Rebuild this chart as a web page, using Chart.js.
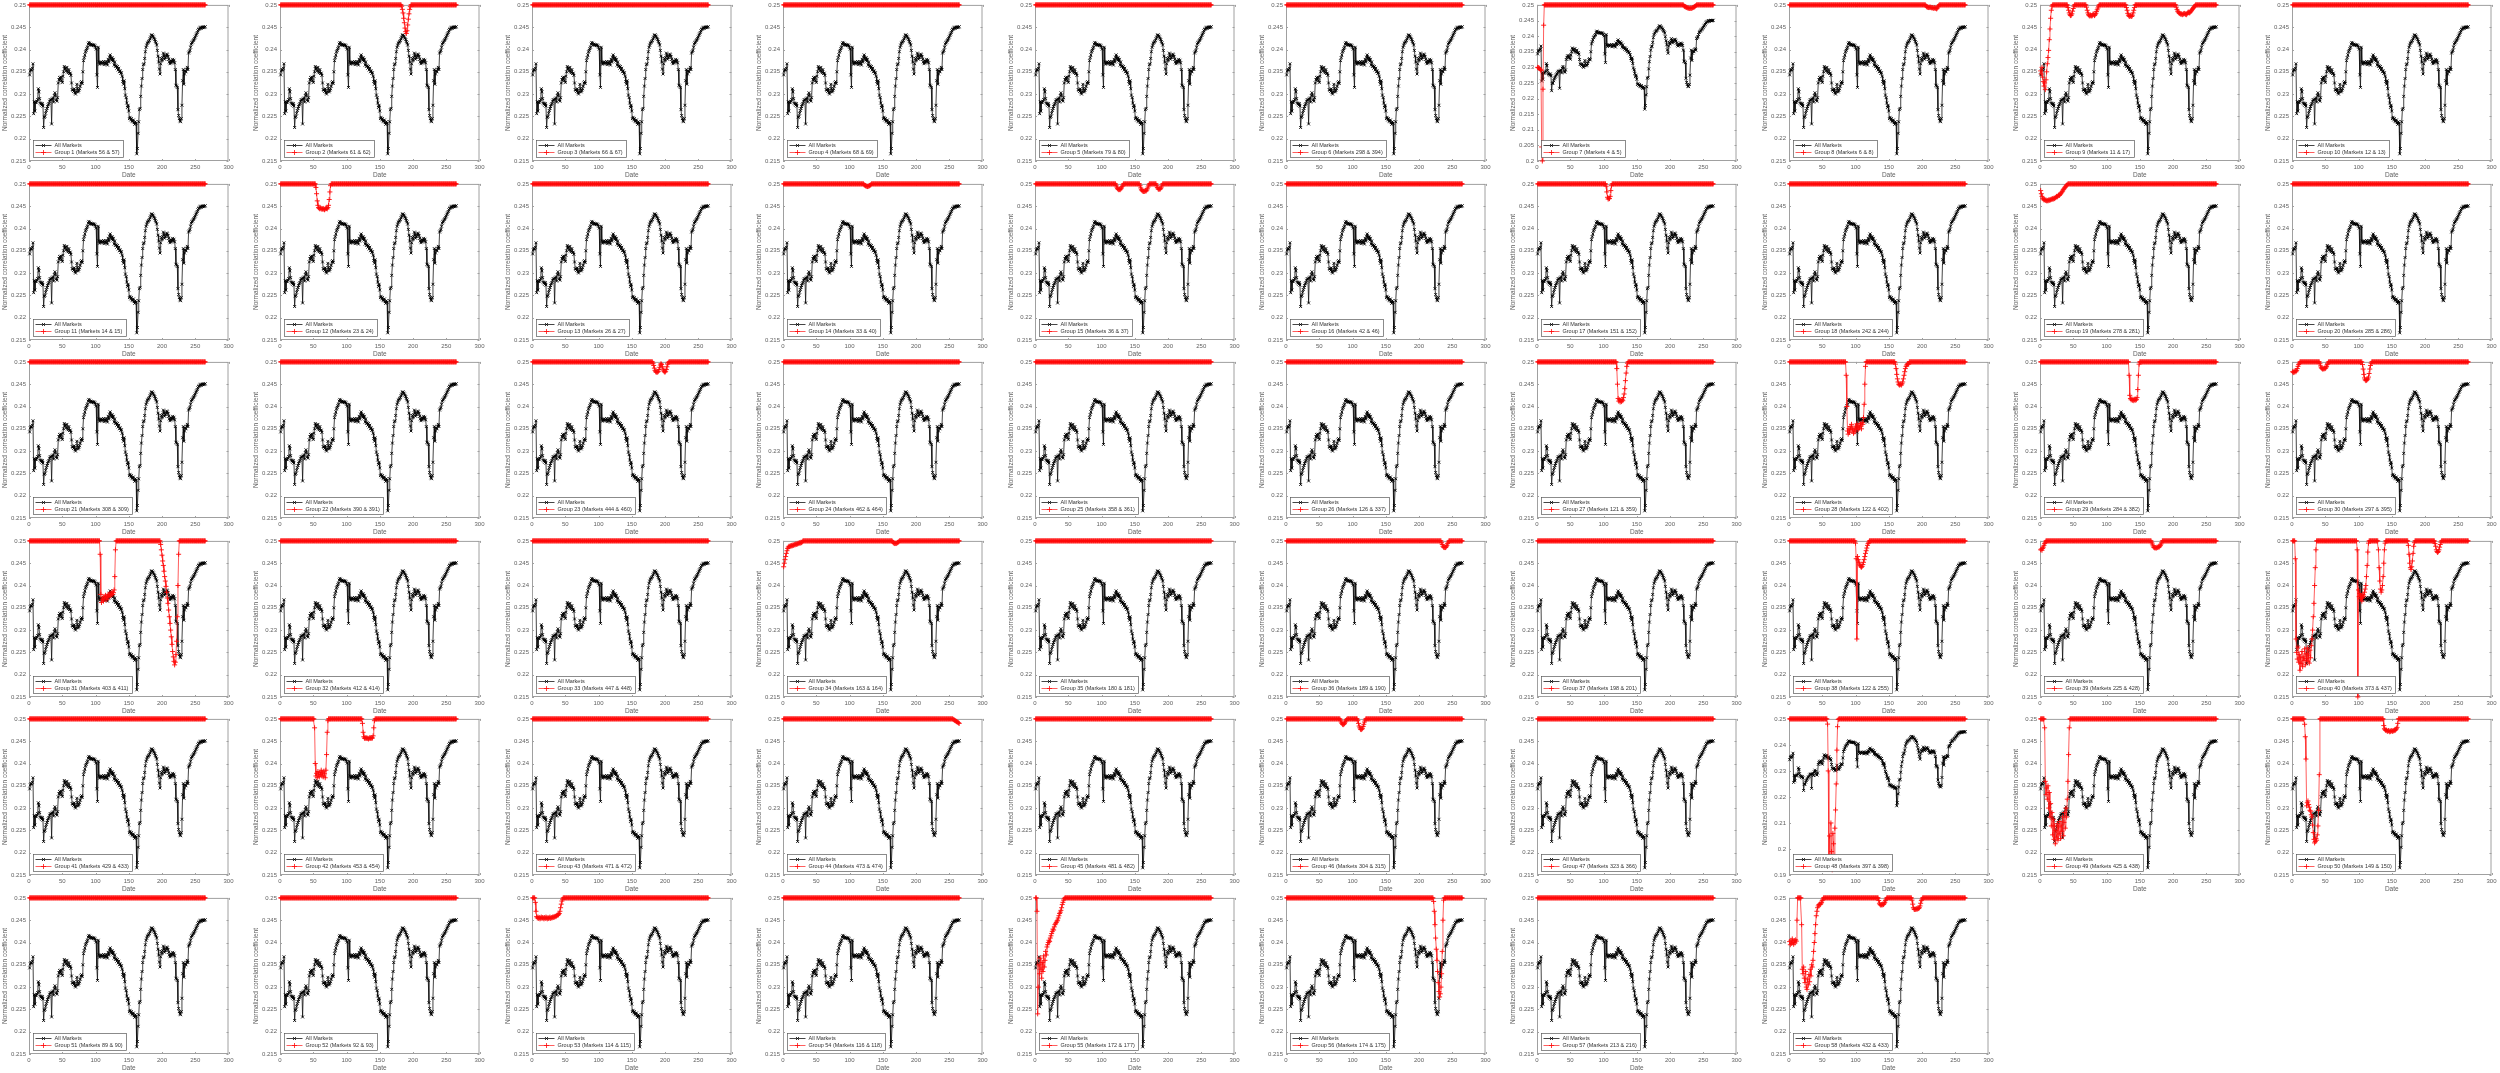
<!DOCTYPE html>
<html><head><meta charset="utf-8">
<script src="https://cdn.jsdelivr.net/npm/chart.js@4.4.0/dist/chart.umd.min.js"></script>
<style>
html,body{margin:0;padding:0;background:#fff;width:2500px;height:1073px;overflow:hidden}
canvas{position:absolute}
</style></head><body>
<script>
// ---------- DATA ----------
const dateCount = 265;
const dates = Array.from({length: dateCount}, (_, i) => i + 1);

const allMarkets = [
0.2343,0.2352,0.2354,0.2355,0.2358,0.2368,0.2256,0.2283,0.2262,0.2281,
0.2282,0.2284,0.2288,0.2312,0.2305,0.2290,0.2280,0.2278,0.2275,0.2279,
0.2273,0.2225,0.2248,0.2250,0.2257,0.2263,0.2268,0.2272,0.2276,0.2279,
0.2284,0.2287,0.2288,0.2233,0.2289,0.2291,0.2282,0.2297,0.2303,0.2298,
0.2287,0.2284,0.2292,0.2325,0.2332,0.2337,0.2332,0.2338,0.2330,0.2326,
0.2340,0.2350,0.2362,0.2356,0.2358,0.2352,0.2360,0.2350,0.2348,0.2355,
0.2346,0.2347,0.2342,0.2325,0.2310,0.2309,0.2306,0.2312,0.2303,0.2300,
0.2305,0.2322,0.2312,0.2305,0.2308,0.2312,0.2318,0.2325,0.2328,0.2324,
0.2350,0.2375,0.2382,0.2388,0.2395,0.2398,0.2402,0.2405,0.2412,0.2416,
0.2414,0.2410,0.2412,0.2410,0.2410,0.2411,0.2409,0.2410,0.2408,0.2405,
0.2401,0.2343,0.2315,0.2405,0.2372,0.2367,0.2370,0.2372,0.2368,0.2371,
0.2370,0.2373,0.2366,0.2370,0.2372,0.2368,0.2373,0.2365,0.2378,0.2372,
0.2383,0.2388,0.2380,0.2376,0.2382,0.2374,0.2378,0.2365,0.2372,0.2362,
0.2364,0.2358,0.2362,0.2354,0.2358,0.2350,0.2352,0.2346,0.2348,0.2340,
0.2328,0.2322,0.2330,0.2312,0.2298,0.2292,0.2280,0.2270,0.2275,0.2262,
0.2245,0.2248,0.2242,0.2245,0.2240,0.2238,0.2242,0.2236,0.2232,0.2238,
0.2235,0.2166,0.2178,0.2212,0.2238,0.2265,0.2268,0.2295,0.2318,0.2335,
0.2355,0.2366,0.2368,0.2380,0.2395,0.2405,0.2410,0.2414,0.2416,0.2418,
0.2420,0.2424,0.2428,0.2432,0.2433,0.2430,0.2428,0.2425,0.2422,0.2418,
0.2415,0.2410,0.2398,0.2385,0.2372,0.2356,0.2345,0.2368,0.2380,0.2375,
0.2382,0.2392,0.2385,0.2378,0.2382,0.2386,0.2390,0.2388,0.2384,0.2378,
0.2372,0.2368,0.2375,0.2370,0.2374,0.2378,0.2372,0.2376,0.2370,0.2355,
0.2320,0.2318,0.2315,0.2265,0.2252,0.2245,0.2240,0.2238,0.2245,0.2275,
0.2330,0.2355,0.2322,0.2345,0.2352,0.2350,0.2356,0.2360,0.2355,0.2392,
0.2395,0.2398,0.2405,0.2412,0.2415,0.2417,0.2420,0.2422,0.2425,0.2428,
0.2432,0.2435,0.2438,0.2442,0.2445,0.2446,0.2448,0.2450,0.2447,0.2450,
0.2449,0.2451,0.2449,0.2450,0.2451
];

const marketA = [56,61,66,68,79,298,4,6,11,12, 14,23,26,33,36,42,151,242,278,285,
  308,390,444,462,358,126,121,122,284,297, 403,412,447,163,180,189,198,122,225,373,
  429,453,471,473,481,304,323,397,425,149, 89,92,114,116,172,174,213,432];
const marketB = [57,62,67,69,80,394,5,8,17,13, 15,24,27,40,37,46,152,244,281,286,
  309,391,460,464,361,337,359,402,382,395, 411,414,448,164,181,190,201,255,428,437,
  433,454,472,474,482,315,366,398,438,150, 90,93,115,118,177,175,216,433];

const yAxisMax = 0.25;
const yAxisMin = [0.215,0.215,0.215,0.215,0.215,0.215,0.2,0.215,0.215,0.215,
  0.215,0.215,0.215,0.215,0.215,0.215,0.215,0.215,0.215,0.215,
  0.215,0.215,0.215,0.215,0.215,0.215,0.215,0.215,0.215,0.215,
  0.215,0.215,0.215,0.215,0.215,0.215,0.215,0.215,0.215,0.215,
  0.215,0.215,0.215,0.215,0.215,0.215,0.215,0.19,0.215,0.215,
  0.215,0.215,0.215,0.215,0.215,0.215,0.215,0.215];
const yAxisStep = yAxisMin.map(m => m === 0.19 ? 0.01 : 0.005);
const xTicks = [0, 50, 100, 150, 200, 250, 300];

// group curve: 0.25 everywhere except these runs [startDate, values...]
const redBaseline = 0.25;
const redRuns = [
 [], // 1
 [[183,[0.2497,0.2490,0.2482,0.2470,0.2460,0.2448,0.2440,0.2436,0.2442,0.2455,0.2468,0.2480,0.2490,0.2496]]],
 [],[],[],[],
 [[1,[0.2300,0.2299,0.2298,0.2296,0.2293,0.2290,0.2045,0.2000,0.2230,0.2435]],
  [221,[0.2497,0.2495,0.2494,0.2493,0.2492,0.2491,0.2490,0.2490,0.2489,0.2489,0.2490,0.2489,0.2490,0.2491,0.2492,0.2493,0.2494,0.2496,0.2498]]],
 [[206,[0.2498,0.2496,0.2495,0.2495,0.2494,0.2495,0.2494,0.2495,0.2494,0.2493,0.2494,0.2493,0.2492,0.2494,0.2493,0.2492,0.2491,0.2493,0.2496,0.2498]]],
 [[1,[0.2352,0.2345,0.2360,0.2338,0.2328,0.2318,0.2325,0.2310,0.2332,0.2350,0.2368,0.2382,0.2398,0.2422,0.2446,0.2470,0.2488,0.2497]],
  [42,[0.2494,0.2488,0.2482,0.2478,0.2476,0.2477,0.2480,0.2486,0.2492,0.2497]],
  [70,[0.2495,0.2488,0.2482,0.2478,0.2476,0.2475,0.2477,0.2476,0.2475,0.2477,0.2480,0.2478,0.2476,0.2478,0.2481,0.2485,0.2489,0.2493,0.2497]],
  [130,[0.2494,0.2488,0.2481,0.2477,0.2475,0.2474,0.2476,0.2475,0.2474,0.2477,0.2482,0.2488,0.2494]],
  [205,[0.2495,0.2490,0.2486,0.2484,0.2482,0.2481,0.2480,0.2479,0.2480,0.2478,0.2479,0.2480,0.2481,0.2480,0.2479,0.2478,0.2480,0.2482,0.2484,0.2483,0.2482,0.2484,0.2486,0.2488,0.2490,0.2492,0.2494,0.2496,0.2498]]],
 [], // 10
 [], // 11
 [[54,[0.2492,0.2478,0.2462,0.2452,0.2447,0.2445,0.2444,0.2446,0.2445,0.2443,0.2444,0.2445,0.2443,0.2442,0.2444,0.2446,0.2445,0.2444,0.2447,0.2452,0.2465,0.2482,0.2496]]],
 [],
 [[122,[0.2498,0.2497,0.2496,0.2495,0.2495,0.2494,0.2495,0.2495,0.2496,0.2497,0.2498]]],
 [[122,[0.2497,0.2493,0.2490,0.2488,0.2487,0.2488,0.2487,0.2489,0.2491,0.2494,0.2497]],
  [158,[0.2496,0.2491,0.2487,0.2485,0.2484,0.2483,0.2484,0.2483,0.2485,0.2484,0.2486,0.2489,0.2493,0.2497]],
  [183,[0.2496,0.2492,0.2489,0.2488,0.2489,0.2488,0.2490,0.2493,0.2497]]],
 [],
 [[104,[0.2495,0.2482,0.2470,0.2466,0.2468,0.2467,0.2472,0.2485,0.2496]]],
 [],
 [[1,[0.2485,0.2478,0.2472,0.2468,0.2466,0.2464,0.2465,0.2463,0.2464,0.2462,0.2463,0.2462,0.2464,0.2463,0.2465,0.2464,0.2466,0.2465,0.2467,0.2466,0.2468,0.2467,0.2469,0.2470,0.2472,0.2471,0.2473,0.2475,0.2474,0.2476,0.2478,0.2480,0.2482,0.2484,0.2487,0.2489,0.2491,0.2493,0.2495,0.2497,0.2498]]],
 [], // 20
 [], [],
 [[182,[0.2497,0.2492,0.2486,0.2481,0.2478,0.2477,0.2478,0.2477,0.2479,0.2483,0.2488,0.2493,0.2496,0.2494,0.2489,0.2484,0.2480,0.2478,0.2477,0.2479,0.2483,0.2489,0.2495,0.2498]]],
 [], [], [],
 [[120,[0.2485,0.2450,0.2418,0.2412,0.2415,0.2410,0.2414,0.2411,0.2416,0.2413,0.2420,0.2428,0.2440,0.2458,0.2475,0.2490,0.2497]]],
 [[86,[0.2470,0.2400,0.2345,0.2338,0.2350,0.2342,0.2355,0.2348,0.2360,0.2352,0.2345,0.2340,0.2350,0.2343,0.2356,0.2349,0.2361,0.2354,0.2348,0.2357,0.2352,0.2362,0.2356,0.2350,0.2364,0.2360,0.2375,0.2405,0.2450,0.2490]],
  [160,[0.2495,0.2485,0.2472,0.2462,0.2455,0.2450,0.2448,0.2449,0.2450,0.2448,0.2451,0.2455,0.2462,0.2470,0.2478,0.2485,0.2490,0.2493,0.2495,0.2496,0.2495]]],
 [[134,[0.2470,0.2425,0.2418,0.2415,0.2417,0.2414,0.2416,0.2413,0.2415,0.2417,0.2414,0.2416,0.2420,0.2438,0.2470,0.2495]]],
 [[1,[0.2478,0.2476,0.2479,0.2477,0.2480,0.2478,0.2481,0.2485,0.2490,0.2494,0.2497]],
  [42,[0.2496,0.2491,0.2487,0.2485,0.2484,0.2485,0.2484,0.2486,0.2485,0.2487,0.2490,0.2494,0.2497]],
  [106,[0.2494,0.2484,0.2472,0.2464,0.2460,0.2458,0.2459,0.2460,0.2462,0.2466,0.2474,0.2484,0.2492,0.2497]]],
 [[107,[0.2470,0.2380,0.2362,0.2368,0.2372,0.2365,0.2375,0.2370,0.2378,0.2373,0.2368,0.2376,0.2380,0.2374,0.2379,0.2383,0.2377,0.2381,0.2386,0.2380,0.2384,0.2390,0.2420,0.2480]],
  [198,[0.2492,0.2480,0.2468,0.2455,0.2445,0.2432,0.2420,0.2410,0.2398,0.2385,0.2372,0.2360,0.2345,0.2330,0.2315,0.2300,0.2285,0.2268,0.2252,0.2240,0.2230,0.2222,0.2228,0.2245,0.2275,0.2330,0.2400,0.2470]]],
 [], [],
 [[1,[0.2442,0.2450,0.2458,0.2465,0.2472,0.2478,0.2483,0.2486,0.2488,0.2487,0.2489,0.2488,0.2490,0.2489,0.2491,0.2490,0.2492,0.2491,0.2493,0.2492,0.2494,0.2493,0.2495,0.2494,0.2496,0.2495,0.2497,0.2496,0.2498]],
  [165,[0.2498,0.2496,0.2495,0.2494,0.2495,0.2494,0.2495,0.2496,0.2497,0.2498]]],
 [],
 [[234,[0.2496,0.2492,0.2488,0.2486,0.2485,0.2486,0.2485,0.2487,0.2490,0.2494,0.2497]]],
 [],
 [[100,[0.2495,0.2460,0.2280,0.2465,0.2458,0.2452,0.2448,0.2445,0.2442,0.2441,0.2443,0.2447,0.2452,0.2458,0.2465,0.2472,0.2478,0.2484,0.2490,0.2494,0.2497]]],
 [[1,[0.2480,0.2482,0.2479,0.2483,0.2486,0.2490,0.2494,0.2497]],
  [168,[0.2497,0.2493,0.2489,0.2486,0.2485,0.2484,0.2485,0.2484,0.2486,0.2485,0.2487,0.2486,0.2488,0.2490,0.2493,0.2496]]],
 [[5,[0.2460,0.2280,0.2250,0.2235,0.2262,0.2228,0.2245,0.2210,0.2238,0.2225,0.2252,0.2218,0.2240,0.2232,0.2258,0.2222,0.2247,0.2236,0.2260,0.2230,0.2244,0.2226,0.2255,0.2238,0.2265,0.2280,0.2300,0.2330,0.2360,0.2400,0.2440,0.2480]],
  [98,[0.2480,0.2150,0.2390,0.2375,0.2382,0.2370,0.2378,0.2365,0.2372,0.2380,0.2376,0.2385,0.2392,0.2400,0.2420,0.2445,0.2475,0.2495]],
  [130,[0.2480,0.2440,0.2410,0.2392,0.2385,0.2390,0.2400,0.2420,0.2450,0.2480,0.2495]],
  [175,[0.2490,0.2470,0.2450,0.2440,0.2436,0.2442,0.2455,0.2472,0.2488,0.2496]],
  [215,[0.2494,0.2488,0.2480,0.2476,0.2474,0.2476,0.2480,0.2486,0.2492,0.2497]]],
 [], // 41
 [[52,[0.2480,0.2400,0.2372,0.2378,0.2368,0.2382,0.2375,0.2370,0.2380,0.2376,0.2385,0.2372,0.2379,0.2370,0.2383,0.2377,0.2368,0.2385,0.2420,0.2470,0.2496]],
  [124,[0.2490,0.2470,0.2460,0.2457,0.2456,0.2458,0.2457,0.2456,0.2457,0.2455,0.2456,0.2458,0.2457,0.2456,0.2458,0.2457,0.2462,0.2480,0.2496]]],
 [],
 [[256,[0.2499,0.2498,0.2497,0.2496,0.2495,0.2494,0.2493,0.2492,0.2491,0.2490]]],
 [],
 [[82,[0.2497,0.2493,0.2490,0.2488,0.2487,0.2488,0.2490,0.2493,0.2496,0.2498]],
  [108,[0.2496,0.2490,0.2484,0.2480,0.2477,0.2476,0.2477,0.2479,0.2483,0.2488,0.2493,0.2497]]],
 [],
 [[58,[0.2480,0.2300,0.1960,0.2050,0.1930,0.2100,0.1990,0.1920,0.2060,0.2020,0.1950,0.2080,0.2150,0.2250,0.2380,0.2470,0.2498]]],
 [[7,[0.2480,0.2360,0.2330,0.2345,0.2320,0.2350,0.2300,0.2335,0.2280,0.2310,0.2260,0.2290,0.2240,0.2275,0.2230,0.2260,0.2220,0.2250,0.2235,0.2265,0.2228,0.2258,0.2242,0.2270,0.2232,0.2262,0.2248,0.2280,0.2238,0.2268,0.2290,0.2255,0.2300,0.2280,0.2320,0.2360,0.2420,0.2480]]],
 [[19,[0.2488,0.2460,0.2410,0.2305,0.2312,0.2316,0.2308,0.2302,0.2295,0.2293,0.2285,0.2280,0.2262,0.2245,0.2230,0.2222,0.2225,0.2232,0.2228,0.2240,0.2260,0.2295,0.2375]],
  [138,[0.2485,0.2478,0.2476,0.2474,0.2475,0.2473,0.2472,0.2474,0.2473,0.2471,0.2472,0.2474,0.2473,0.2472,0.2474,0.2473,0.2475,0.2474,0.2476,0.2478,0.2481,0.2490]]],
 [], [], // 51,52
 [[5,[0.2490,0.2470,0.2458,0.2455,0.2457,0.2454,0.2456,0.2453,0.2455,0.2457,0.2454,0.2456,0.2455,0.2453,0.2456,0.2454,0.2457,0.2455,0.2453,0.2456,0.2454,0.2455,0.2457,0.2454,0.2456,0.2455,0.2457,0.2456,0.2458,0.2457,0.2459,0.2458,0.2460,0.2462,0.2461,0.2463,0.2465,0.2470,0.2478,0.2486,0.2493,0.2497]]],
 [],
 [[3,[0.2470,0.2240,0.2300,0.2350,0.2330,0.2365,0.2340,0.2320,0.2355,0.2335,0.2370,0.2345,0.2360,0.2380,0.2372,0.2390,0.2395,0.2400,0.2405,0.2402,0.2410,0.2415,0.2420,0.2425,0.2430,0.2428,0.2435,0.2440,0.2442,0.2445,0.2448,0.2450,0.2455,0.2460,0.2465,0.2468,0.2472,0.2478,0.2485,0.2490,0.2495,0.2498]]],
 [[222,[0.2492,0.2470,0.2440,0.2410,0.2385,0.2360,0.2335,0.2310,0.2290,0.2278,0.2285,0.2300,0.2330,0.2380,0.2450,0.2495]]],
 [],
 [[1,[0.2402,0.2395,0.2405,0.2398,0.2408,0.2400,0.2396,0.2404,0.2399,0.2406,0.2403,0.2450,0.2500,0.2500,0.2500,0.2500,0.2500,0.2500,0.2440,0.2340,0.2330,0.2345,0.2320,0.2310,0.2335,0.2300,0.2295,0.2318,0.2305,0.2328,0.2312,0.2340,0.2325,0.2350,0.2345,0.2360,0.2380,0.2400,0.2420,0.2440,0.2460,0.2470,0.2478,0.2482,0.2485,0.2486,0.2485,0.2487,0.2490,0.2494,0.2497]],
  [135,[0.2494,0.2488,0.2485,0.2484,0.2485,0.2484,0.2486,0.2485,0.2487,0.2490,0.2494,0.2497]],
  [185,[0.2495,0.2486,0.2478,0.2475,0.2474,0.2475,0.2474,0.2476,0.2475,0.2477,0.2476,0.2478,0.2482,0.2488,0.2494,0.2497]]]
];

// ---------- LAYOUT / STYLE ----------
const COLS = 10, PITCH_X = 251.4, PITCH_Y = 178.6, CW = 252, CH = 179;
const FONT = '"Liberation Sans", Arial, sans-serif';
const TXT = '#5e5e5e', BOX = '#a0a0a0';

function buildRed(runs) {
  const v = dates.map(() => redBaseline);
  runs.forEach(([start, vals]) => vals.forEach((y, j) => { v[start - 1 + j] = y; }));
  return v;
}
const fmt = v => String(parseFloat(Number(v).toFixed(4)));

const framePlugin = {
  id: 'frame',
  beforeDatasetsDraw(chart) {
    const {ctx, chartArea: a, scales} = chart;
    ctx.save();
    ctx.strokeStyle = BOX; ctx.lineWidth = 1;
    ctx.strokeRect(a.left + 0.5, a.top + 0.5, a.right - a.left - 1, a.bottom - a.top - 1);
    ctx.beginPath();
    const tl = 2;
    scales.x.ticks.forEach(t => {
      const p = Math.round(scales.x.getPixelForValue(t.value)) + 0.5;
      ctx.moveTo(p, a.bottom); ctx.lineTo(p, a.bottom - tl);
      ctx.moveTo(p, a.top); ctx.lineTo(p, a.top + tl);
    });
    scales.y.ticks.forEach(t => {
      const p = Math.round(scales.y.getPixelForValue(t.value)) + 0.5;
      ctx.moveTo(a.left, p); ctx.lineTo(a.left + tl, p);
      ctx.moveTo(a.right, p); ctx.lineTo(a.right - tl, p);
    });
    ctx.stroke();
    ctx.restore();
  },
  afterDatasetsDraw(chart) {
    const {ctx, chartArea: a} = chart;
    const ds = chart.data.datasets;
    const items = [ds[1], ds[0]]; // All Markets first, then group
    ctx.save();
    ctx.font = '5.5px ' + FONT;
    const tw = Math.max(...items.map(d => ctx.measureText(d.label).width));
    const bw = Math.round(21 + tw + 4), bh = 17;
    const bx = Math.round(a.left + 4) + 0.5, by = Math.round(a.bottom - 4 - bh) + 0.5;
    ctx.fillStyle = '#fff';
    ctx.fillRect(bx, by, bw, bh);
    ctx.strokeStyle = '#5a5a5a'; ctx.lineWidth = 0.7;
    ctx.strokeRect(bx, by, bw, bh);
    items.forEach((d, i) => {
      const y = by + 5 + i * 7;
      ctx.strokeStyle = d.borderColor; ctx.lineWidth = 0.9;
      ctx.beginPath(); ctx.moveTo(bx + 2, y); ctx.lineTo(bx + 18, y); ctx.stroke();
      const mx = bx + 10, r = d.pointRadius;
      ctx.strokeStyle = d.pointBorderColor; ctx.lineWidth = 0.8;
      ctx.beginPath();
      if (d.pointStyle === 'cross') {
        ctx.moveTo(mx - r, y); ctx.lineTo(mx + r, y); ctx.moveTo(mx, y - r); ctx.lineTo(mx, y + r);
      } else {
        const q = r * 0.75;
        ctx.moveTo(mx - q, y - q); ctx.lineTo(mx + q, y + q); ctx.moveTo(mx - q, y + q); ctx.lineTo(mx + q, y - q);
      }
      ctx.stroke();
      ctx.fillStyle = '#333'; ctx.textBaseline = 'middle';
      ctx.fillText(d.label, bx + 21, y + 0.3);
    });
    ctx.restore();
  }
};

for (let g = 0; g < redRuns.length; g++) {
  const col = g % COLS, row = Math.floor(g / COLS);
  const cv = document.createElement('canvas');
  cv.width = CW; cv.height = CH;
  cv.style.left = Math.round(col * PITCH_X) + 'px';
  cv.style.top = Math.round(row * PITCH_Y) + 'px';
  document.body.appendChild(cv);
  const red = buildRed(redRuns[g]);
  new Chart(cv, {
    type: 'line',
    data: {
      datasets: [
        {
          label: 'Group ' + (g + 1) + ' (Markets ' + marketA[g] + ' & ' + marketB[g] + ')',
          data: dates.map((d, i) => ({x: d, y: red[i]})),
          borderColor: 'rgba(255,30,30,0.8)', borderWidth: 0.9,
          pointStyle: 'cross', pointRadius: 2.5, pointBorderWidth: 0.9,
          pointBorderColor: '#ff0a0a', pointBackgroundColor: '#ff0a0a',
          order: 0, clip: false, tension: 0
        },
        {
          label: 'All Markets',
          data: dates.map((d, i) => ({x: d, y: allMarkets[i]})),
          borderColor: 'rgba(10,10,10,0.85)', borderWidth: 0.9,
          pointStyle: 'crossRot', pointRadius: 2, pointBorderWidth: 0.9,
          pointBorderColor: '#000', pointBackgroundColor: '#000',
          order: 1, clip: false, tension: 0
        }
      ]
    },
    options: {
      responsive: false, animation: false, devicePixelRatio: 1,
      layout: {padding: {top: 3, right: 23.5, bottom: 0, left: 0}},
      plugins: {legend: {display: false}, tooltip: {enabled: false}},
      scales: {
        x: {
          type: 'linear', min: 0, max: 300,
          afterBuildTicks: s => { s.ticks = xTicks.map(v => ({value: v})); },
          ticks: {font: {family: FONT, size: 6}, color: TXT, padding: 3, maxRotation: 0, autoSkip: false, callback: fmt},
          grid: {display: false, drawTicks: false},
          border: {display: false},
          title: {display: true, text: 'Date', font: {family: FONT, size: 6.5}, color: TXT, padding: {top: 0, bottom: 0}},
          afterFit: s => { s.height = 18; s.paddingLeft = 0; s.paddingRight = 0; }
        },
        y: {
          type: 'linear', min: yAxisMin[g], max: yAxisMax,
          ticks: {stepSize: yAxisStep[g], font: {family: FONT, size: 6}, color: TXT, padding: 3, autoSkip: false, callback: fmt},
          grid: {display: false, drawTicks: false},
          border: {display: false},
          title: {display: true, text: 'Normalized correlation coefficient', font: {family: FONT, size: 6.5}, color: TXT, padding: {top: 1, bottom: 0}},
          afterFit: s => { s.width = 29; s.paddingTop = 0; s.paddingBottom = 0; }
        }
      }
    },
    plugins: [framePlugin]
  });
}
</script>
</body></html>
